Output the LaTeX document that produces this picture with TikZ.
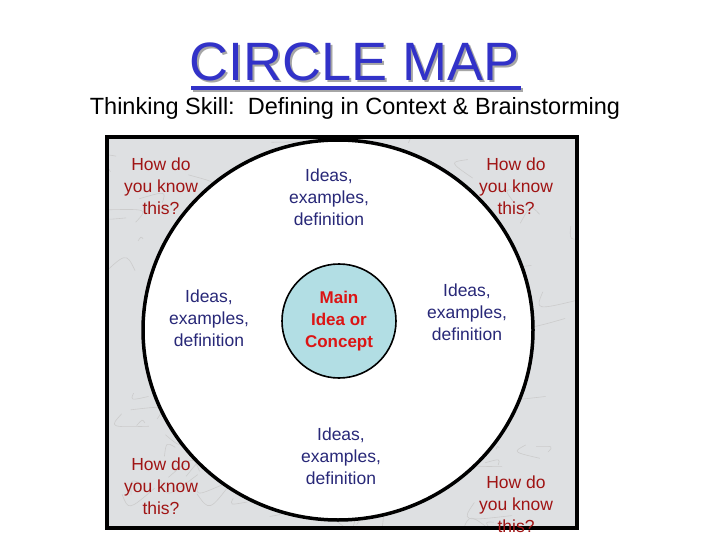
\documentclass[tikz,border=0pt]{standalone}
\usepackage{fontspec}
\setmainfont{Liberation Sans}
\definecolor{tblue}{RGB}{50,50,200}
\definecolor{tred}{RGB}{160,20,20}
\definecolor{mred}{RGB}{220,20,20}
\definecolor{tnavy}{RGB}{40,40,120}
\definecolor{marble}{RGB}{222,224,226}
\definecolor{lblue}{RGB}{178,222,228}
\begin{document}
\begin{tikzpicture}[x=1pt,y=-1pt,
  lab/.style={align=center,font=\fontsize{17.5}{22}\selectfont},
  red lab/.style={lab,text=tred},
  blue lab/.style={lab,text=tnavy}]
\useasboundingbox (0,0) rectangle (720,540);
\fill[white] (0,0) rectangle (720,540);
% title
\node[text=gray!70,font=\fontsize{54}{60}\selectfont] at (357,64) {CIRCLE MAP};
\node (title) [text=tblue,font=\fontsize{54}{60}\selectfont] at (355,62) {CIRCLE MAP};
\fill[gray!70] (193,88) rectangle (523,92);
\fill[tblue] (191,86) rectangle (521,90);
\node (sub) [font=\fontsize{23.5}{26}\selectfont] at (355,108) {Thinking Skill:\ \ Defining in Context \& Brainstorming};
% frame
\begin{scope}
\clip (107,137) rectangle (577,528);
\fill[marble] (107,137) rectangle (577,528);
\pgfmathsetseed{7}
\foreach \i in {1,...,90}{
  \pgfmathsetmacro{\xa}{107+470*rnd}
  \pgfmathsetmacro{\ya}{137+391*rnd}
  \pgfmathsetmacro{\dx}{40*rnd-20}
  \pgfmathsetmacro{\dy}{40*rnd-20}
  \draw[gray!40,line width=0.6pt] (\xa,\ya) .. controls (\xa+\dx,\ya+\dy) .. (\xa+2*\dy,\ya-\dx);
}
\fill[white] (338,330) ellipse [x radius=195,y radius=190];
\draw[line width=3.5pt] (338,330) ellipse [x radius=195,y radius=190];
\end{scope}
\draw[line width=4pt] (107,137) rectangle (577,528);
\node (main) [circle,draw,line width=1.6pt,fill=lblue,minimum size=114pt,inner sep=0pt,
  align=center,text=mred,font=\bfseries\fontsize{17}{22}\selectfont] at (339,321) {Main\\Idea or\\Concept};
% labels
\node[red lab] at (161,186) {How do\\you know\\this?};
\node[red lab] at (516,186) {How do\\you know\\this?};
\node[red lab] at (161,486) {How do\\you know\\this?};
\node[red lab] at (516,504) {How do\\you know\\this?};
\node[blue lab] at (329,197) {Ideas,\\examples,\\definition};
\node[blue lab] at (209,318) {Ideas,\\examples,\\definition};
\node[blue lab] at (467,312) {Ideas,\\examples,\\definition};
\node[blue lab] at (341,456) {Ideas,\\examples,\\definition};
\end{tikzpicture}
\end{document}
